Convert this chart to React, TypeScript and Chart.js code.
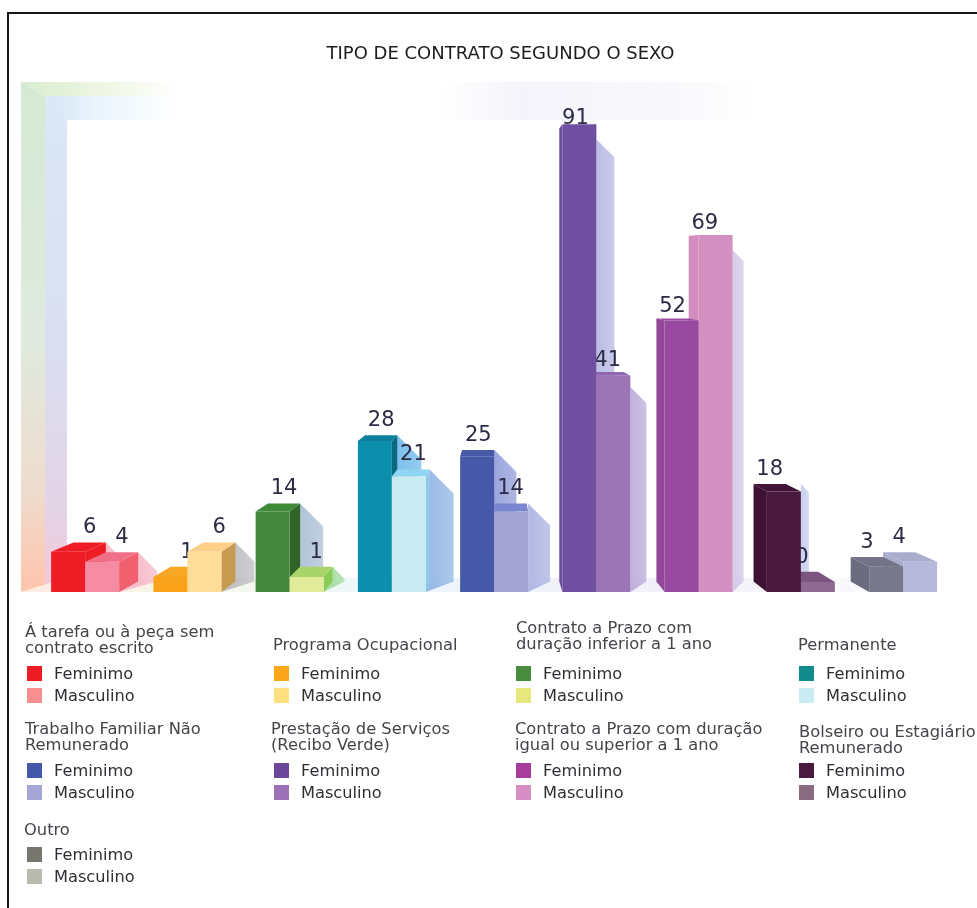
import React, { useEffect, useRef } from "react";
import { Chart, registerables } from "chart.js";

Chart.register(...registerables);

// ---- data ----
const categories = [
  "Á tarefa ou à peça sem contrato escrito",
  "Programa Ocupacional",
  "Contrato a Prazo com duração inferior a 1 ano",
  "Permanente",
  "Trabalho Familiar Não Remunerado",
  "Prestação de Serviços (Recibo Verde)",
  "Contrato a Prazo com duração igual ou superior a 1 ano",
  "Bolseiro ou Estagiário Remunerado",
  "Outro",
];
const feminimo = [6, 1, 14, 28, 25, 91, 52, 18, 3];
const masculino = [4, 6, 1, 21, 14, 41, 69, 0, 4];

// ---- bar styles ----
const frontF = ["#ee1c25", "#faa31a", "#44873d", "#0b8fac", "#4658a8", "#6f50a0", "#974a9f", "#4a1a3e", "#78788c"];
const frontM = ["#f58ca4", "#fedd99", "#e1ec9a", "#c9eaf0", "#a4a3d4", "#9c76b4", "#d590c2", "#8e6a93", "#b8b8dc"];
const capF = ["#ee1c25", "#f9a825", "#3e8a38", "#0d7f9c", "#4658a8", "#6f50a0", "#974a9f", "#3f1436", "#737386"];
const capM = ["#f0708a", "#fdd08a", "#a9d46a", "#8fd6f2", "#7a86cf", "#9068b0", "#d590c2", "#7a5580", "#aaaccc"];
const sideF = ["#ee1c25", "#e8901a", "#2f6427", "#0b6880", "#4658a8", "#6d4e9e", "#934799", "#3e1233", "#6c6c80"];
const sideM = ["#f0606f", "#c69a4f", "#88cc55", "#8fc8e8", "#8a92d4", "#9c76b4", "#d38ec0", "#7a5580", "#aaaccc"];
const shadowF = ["#f6b8c4", "#e8c89c", "#a9bdd4", "#6db8ea", "#8f9bd8", "#b4b6e2", "#cfc2e6", "#c2cbea", "#ffffff"];
const shadowM = ["#f6b8c8", "#bcbcc2", "#a2dca0", "#8fb3e4", "#aab0e2", "#b9a9d9", "#cfc6e6", "#ffffff", "#ffffff"];
const shadowWidthF = [19, 19, 23, 24, 22, 18, 11, 8, 0];
const shadowWidthM = [19, 19, 12, 24, 22, 16, 11, 0, 0];

// ---- legend ----
const legendF = ["#ed1c24", "#faa61a", "#4a8c3f", "#0f8b8d", "#4358a8", "#6b479c", "#a83c9a", "#4a1a3f", "#76766f"];
const legendM = ["#f98e90", "#ffe07f", "#e6e77c", "#c9ebf2", "#a5a5d6", "#9b72b5", "#d58fc4", "#8b6b80", "#b9bbaf"];
const legendTitles = [
  ["Á tarefa ou à peça sem", "contrato escrito"],
  ["Programa Ocupacional"],
  ["Contrato a Prazo com", "duração inferior a 1 ano"],
  ["Permanente"],
  ["Trabalho Familiar Não", "Remunerado"],
  ["Prestação de Serviços", "(Recibo Verde)"],
  ["Contrato a Prazo com duração", "igual ou superior a 1 ano"],
  ["Bolseiro ou Estagiário", "Remunerado"],
  ["Outro"],
];
const legendTitleX = [25, 273, 516, 798, 25, 271, 515, 799, 24];
const legendTitleY = [624, 637, 620, 637, 721, 721, 721, 724, 822];
const legendSwatchX = [27, 274, 516, 799, 27, 274, 516, 799, 27];
const legendRowY = [666, 666, 666, 666, 763, 763, 763, 763, 847];

// ---- projection: every bar is extruded towards one vanishing point ----
const VX = 500, VY = 260, KX = 0.05, KY = 0.032;
const backX = (x: number) => x + KX * (VX - x);
const backY = (y: number) => y + KY * (VY - y);

const poly = (ctx: CanvasRenderingContext2D, pts: number[][], fill: string | CanvasGradient) => {
  ctx.beginPath();
  pts.forEach((p, i) => (i ? ctx.lineTo(p[0], p[1]) : ctx.moveTo(p[0], p[1])));
  ctx.closePath();
  ctx.fillStyle = fill;
  ctx.fill();
};

const linear = (ctx: CanvasRenderingContext2D, x0: number, y0: number, x1: number, y1: number, stops: [number, string][]) => {
  const g = ctx.createLinearGradient(x0, y0, x1, y1);
  stops.forEach(([o, c]) => g.addColorStop(o, c));
  return g;
};

const drawRoom = (ctx: CanvasRenderingContext2D) => {
  // top strips and back-wall glow
  poly(ctx, [[21, 82], [190, 82], [190, 96], [45, 96]], linear(ctx, 21, 0, 180, 0, [[0, "#d8ecd0"], [0.5, "#eef6e2"], [1, "#ffffff"]]));
  poly(ctx, [[45, 96], [190, 96], [190, 120], [67, 120]], linear(ctx, 45, 0, 180, 0, [[0, "#d6e6f6"], [0.5, "#eef7fd"], [1, "#ffffff"]]));
  poly(ctx, [[440, 82], [760, 82], [760, 120], [440, 120]], linear(ctx, 440, 0, 760, 0, [[0, "#ffffff"], [0.25, "#f4f5fb"], [0.7, "#f8f8fc"], [1, "#ffffff"]]));
  // left wall
  poly(ctx, [[21, 82], [45, 96], [45, 585], [21, 592]], linear(ctx, 0, 82, 0, 592, [[0, "#d4e9d2"], [0.5, "#dfeade"], [0.8, "#eedccd"], [1, "#ffc4ac"]]));
  poly(ctx, [[45, 96], [67, 120], [67, 578], [45, 585]], linear(ctx, 0, 96, 0, 585, [[0, "#dbe8f6"], [0.5, "#d9dff1"], [0.85, "#e4d3e6"], [1, "#f4c8d8"]]));
  // floor
  poly(ctx, [[21, 592], [67, 578], [900, 578], [940, 592]], linear(ctx, 21, 0, 940, 0, [[0, "#ffeae2"], [0.2, "#f6f8ec"], [0.4, "#ecf7fb"], [0.7, "#f2eff9"], [0.9, "#f9f9fc"], [1, "#ffffff"]]));
};

const drawShadow = (ctx: CanvasRenderingContext2D, el: any, i: number, female: boolean) => {
  const sw = (female ? shadowWidthF : shadowWidthM)[i];
  if (sw <= 0) return;
  const x1 = el.x + el.width / 2;
  const rx = Math.max(x1, backX(x1));
  const ty = Math.min(el.y, backY(el.y));
  const bb = backY(el.base);
  const sc = (female ? shadowF : shadowM)[i];
  const drop = el.y < 400 ? 15 : 0;
  const tip = Math.min(ty + drop + sw, bb);
  ctx.save();
  ctx.globalAlpha = 0.9;
  poly(ctx, [[rx, ty + drop], [rx + sw, tip], [rx + sw, bb], [x1, el.base]],
    linear(ctx, rx, 0, rx + sw, 0, [[0, sc], [1, sc + "cc"]]));
  ctx.restore();
};

const drawBox = (ctx: CanvasRenderingContext2D, el: any, i: number, female: boolean, value: number) => {
  const x0 = el.x - el.width / 2, x1 = el.x + el.width / 2;
  const top = el.y, base = el.base;
  const bx0 = backX(x0), bx1 = backX(x1), by = backY(top), bb = backY(base);
  const side = (female ? sideF : sideM)[i];
  const cap = (female ? capF : capM)[i];
  const ty = Math.min(top, by);
  // value label first, so that a neighbouring box can overlap it
  ctx.fillStyle = "#2b2b45";
  ctx.font = '21px "DejaVu Sans"';
  ctx.textAlign = "center";
  ctx.textBaseline = "alphabetic";
  ctx.fillText(String(value), backX(el.x), Math.max(ty - (ty > 400 ? 9 : 6), 124));
  if (bx1 > x1) poly(ctx, [[x1, top], [bx1, by], [bx1, bb], [x1, base]], side);
  if (bx0 < x0) poly(ctx, [[x0, top], [bx0, by], [bx0, bb], [x0, base]], side);
  if (by < top) poly(ctx, [[x0, top], [bx0, by], [bx1, by], [x1, top]], cap);
  el.draw(ctx);
};

const box3d = {
  id: "box3d",
  beforeDatasetsDraw(chart: any) {
    const ctx = chart.ctx as CanvasRenderingContext2D;
    drawRoom(ctx);
    const fm = chart.getDatasetMeta(0).data;
    const mm = chart.getDatasetMeta(1).data;
    categories.forEach((_, i) => {
      drawShadow(ctx, fm[i], i, true);
      drawShadow(ctx, mm[i], i, false);
      const centre = (fm[i].x + mm[i].x) / 2;
      // the bar nearer the vanishing point is the one in front
      if (centre < VX) {
        drawBox(ctx, fm[i], i, true, feminimo[i]);
        drawBox(ctx, mm[i], i, false, masculino[i]);
      } else {
        drawBox(ctx, mm[i], i, false, masculino[i]);
        drawBox(ctx, fm[i], i, true, feminimo[i]);
      }
    });
    return false;
  },
};

const FONT = '"DejaVu Sans", sans-serif';
const abs = (left: number, top: number): React.CSSProperties => ({ position: "absolute", left, top });

export default function App() {
  const ref = useRef<HTMLCanvasElement>(null);
  useEffect(() => {
    const chart = new Chart(ref.current!, {
      type: "bar",
      data: {
        labels: categories,
        datasets: [
          { label: "Feminimo", data: feminimo, backgroundColor: frontF, base: -2 } as any,
          { label: "Masculino", data: masculino, backgroundColor: frontM, base: -2 } as any,
        ],
      },
      options: {
        responsive: false,
        animation: false,
        layout: { padding: { left: 34, right: 22.75, top: 79, bottom: 316 } },
        datasets: { bar: { categoryPercentage: 0.665, barPercentage: 1 } },
        scales: {
          x: { display: false },
          y: { display: false, min: -2, max: 100 },
        },
        plugins: { legend: { display: false }, tooltip: { enabled: false } },
      } as any,
      plugins: [box3d],
    });
    return () => chart.destroy();
  }, []);

  return (
    <div style={{ position: "absolute", left: 0, top: 0, width: 977, height: 908, overflow: "hidden", background: "#fff", fontFamily: FONT, color: "#2e2e34", filter: "blur(0.4px)" }}>
      <canvas ref={ref} width={977} height={908} style={{ position: "absolute", left: 0, top: 0, display: "block" }} />
      <div style={{ position: "absolute", left: 7, top: 12, width: 975, height: 900, borderLeft: "2px solid #151515", borderTop: "2px solid #151515", boxSizing: "border-box" }} />
      <div style={{ position: "absolute", left: 0, width: 1001, top: 42, textAlign: "center", fontSize: 18, lineHeight: "21px", color: "#1c1c1c", whiteSpace: "nowrap" }}>
        TIPO DE CONTRATO SEGUNDO O SEXO
      </div>
      {categories.map((_, i) => (
        <React.Fragment key={i}>
          <div style={{ ...abs(legendTitleX[i], legendTitleY[i]), fontSize: 16.3, lineHeight: "16.3px", whiteSpace: "nowrap", color: "#44444a" }}>
            {legendTitles[i].map((t, j) => <div key={j}>{t}</div>)}
          </div>
          <div style={{ ...abs(legendSwatchX[i], legendRowY[i]), width: 15, height: 15, background: legendF[i] }} />
          <div style={{ ...abs(legendSwatchX[i], legendRowY[i] + 22), width: 15, height: 15, background: legendM[i] }} />
          <div style={{ ...abs(legendSwatchX[i] + 27, legendRowY[i] - 1), fontSize: 16.2, lineHeight: "18px", whiteSpace: "nowrap" }}>Feminimo</div>
          <div style={{ ...abs(legendSwatchX[i] + 27, legendRowY[i] + 21), fontSize: 16.2, lineHeight: "18px", whiteSpace: "nowrap" }}>Masculino</div>
        </React.Fragment>
      ))}
    </div>
  );
}
